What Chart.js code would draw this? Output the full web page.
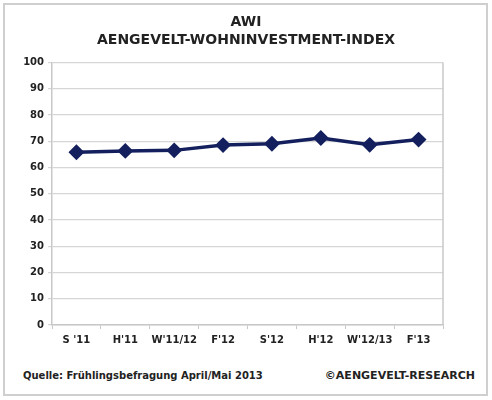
<!DOCTYPE html>
<html>
<head>
<meta charset="utf-8">
<script src="https://cdn.jsdelivr.net/npm/chart.js@4/dist/chart.umd.min.js"></script>
<style>
  html, body { margin: 0; padding: 0; background: #fff; }
  #wrap { position: relative; width: 492px; height: 400px; overflow: hidden; }
  #frame { position: absolute; left: 3px; top: 3px; width: 481px; height: 389px; border: 2px solid #cfcfcf; }
  #box { position: absolute; left: 0; top: 0; width: 492px; height: 360px; }
  .foot { position: absolute; top: 370px; font-family: "DejaVu Sans", sans-serif; font-weight: bold; color: #222; white-space: nowrap; }
  #src { left: 23px; font-size: 10px; }
  #copy { right: 17px; font-size: 11px; top: 369px; }
</style>
</head>
<body>
<div id="wrap">
  <div id="frame"></div>
  <div id="box"><canvas id="awiChart"></canvas></div>
  <div class="foot" id="src">Quelle: Frühlingsbefragung April/Mai 2013</div>
  <div class="foot" id="copy">©AENGEVELT-RESEARCH</div>
</div>
<script>
const categories = ["S '11", "H'11", "W'11/12", "F'12", "S'12", "H'12", "W'12/13", "F'13"];
const awiValues = [65.8, 66.3, 66.5, 68.5, 69.0, 71.2, 68.6, 70.6];
const titleLines = ['AWI', 'AENGEVELT-WOHNINVESTMENT-INDEX'];
const yTicks = [0, 10, 20, 30, 40, 50, 60, 70, 80, 90, 100];

document.addEventListener('DOMContentLoaded', function () {
    const ctx = document.getElementById('awiChart').getContext('2d');
    const font = { family: '"DejaVu Sans", sans-serif', weight: 'bold' };

    // Rahmen rechts um die Zeichenfläche
    const plotBorder = {
        id: 'plotBorder',
        afterDraw(chart) {
            const a = chart.chartArea;
            const c = chart.ctx;
            c.save();
            c.strokeStyle = '#c8c8c8';
            c.lineWidth = 1.5;
            c.beginPath();
            c.moveTo(a.right, a.top);
            c.lineTo(a.right, a.bottom);
            c.stroke();
            c.restore();
        }
    };

    new Chart(ctx, {
        type: 'line',
        data: {
            labels: categories,
            datasets: [{
                label: 'AWI',
                data: awiValues,
                borderColor: '#14205e',
                backgroundColor: '#14205e',
                borderWidth: 3.5,
                pointStyle: 'rectRot',
                pointRadius: 5.5,
                pointHoverRadius: 5.5,
                tension: 0
            }]
        },
        options: {
            responsive: true,
            maintainAspectRatio: false,
            animation: false,
            layout: { padding: 0 },
            plugins: {
                legend: { display: false },
                tooltip: { enabled: false },
                title: {
                    display: true,
                    text: titleLines,
                    color: '#222',
                    font: { ...font, size: 14, lineHeight: 1.3 },
                    padding: { top: 13, bottom: 13 }
                }
            },
            scales: {
                x: {
                    offset: true,
                    afterFit: (s) => { s.height = 35; },
                    grid: {
                        offset: true,
                        drawOnChartArea: false,
                        drawTicks: true,
                        tickLength: 4,
                        color: '#c8c8c8'
                    },
                    border: { color: '#c8c8c8', width: 1.5 },
                    ticks: {
                        color: '#222',
                        font: { ...font, size: 10 },
                        padding: 5,
                        maxRotation: 0,
                        autoSkip: false
                    }
                },
                y: {
                    min: 0,
                    max: 100,
                    afterFit: (s) => { s.width = 52; },
                    afterBuildTicks: (s) => { s.ticks = yTicks.map(v => ({ value: v })); },
                    grid: {
                        color: '#d6d6d6',
                        lineWidth: 1.2,
                        tickLength: 4
                    },
                    border: { color: '#c8c8c8', width: 1.5 },
                    ticks: {
                        color: '#222',
                        font: { ...font, size: 10 },
                        padding: 4
                    }
                },
                // leere rechte Achse als Rand
                yR: {
                    position: 'right',
                    min: 0,
                    max: 100,
                    afterFit: (s) => { s.width = 49; },
                    grid: { drawOnChartArea: false, drawTicks: false },
                    border: { display: false },
                    ticks: { display: false }
                }
            }
        },
        plugins: [plotBorder]
    });
});
</script>
</body>
</html>
